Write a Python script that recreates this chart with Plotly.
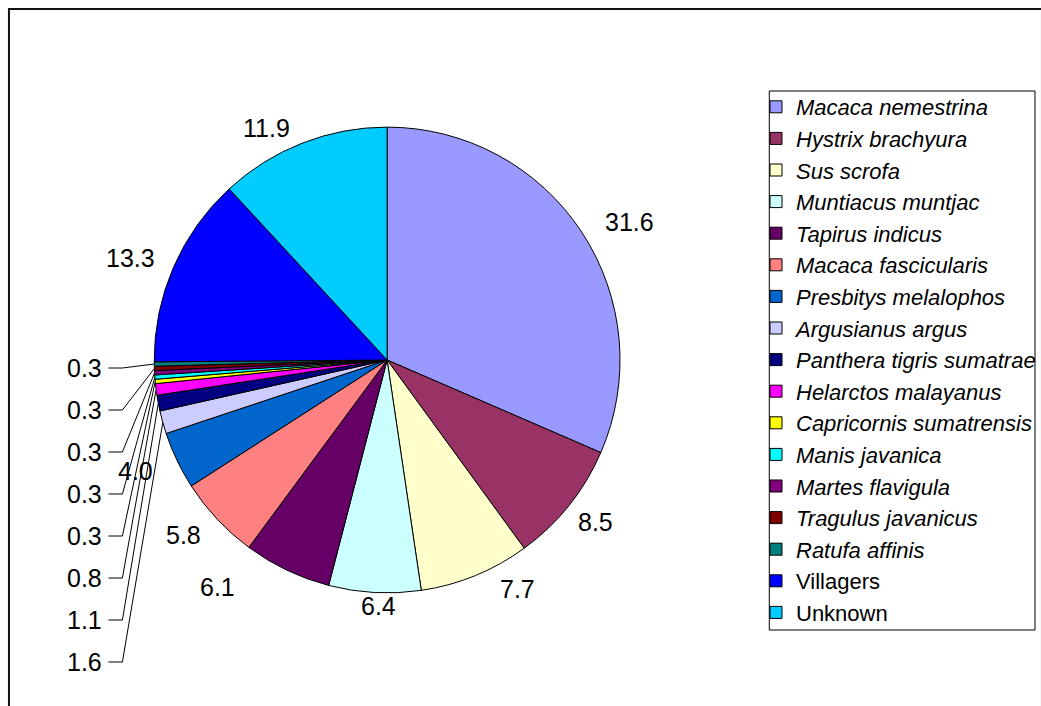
import math
import plotly.graph_objects as go

# Share of records by species / source (percent)
species = [
    "Macaca nemestrina", "Hystrix brachyura", "Sus scrofa", "Muntiacus muntjac",
    "Tapirus indicus", "Macaca fascicularis", "Presbitys melalophos", "Argusianus argus",
    "Panthera tigris sumatrae", "Helarctos malayanus", "Capricornis sumatrensis",
    "Manis javanica", "Martes flavigula", "Tragulus javanicus", "Ratufa affinis",
    "Villagers", "Unknown",
]
percent = [31.6, 8.5, 7.7, 6.4, 6.1, 5.8, 4.0, 1.6, 1.1, 0.8,
           0.3, 0.3, 0.3, 0.3, 0.3, 13.3, 11.9]
is_taxon = [True] * 15 + [False] * 2

colors = [
    "#9999FF", "#993366", "#FFFFCC", "#CCFFFF", "#660066", "#FF8080", "#0066CC",
    "#CCCCFF", "#000080", "#FF00FF", "#FFFF00", "#00FFFF", "#800080", "#800000",
    "#008080", "#0000FF", "#00CCFF",
]

# Page geometry (pixels)
W, H = 1041, 706
CX, CY, R = 389, 360, 234
FONT = "Arial, Liberation Sans, sans-serif"


def px(x):
    return x / W


def py(y):
    return 1 - y / H


legend_names = [f"<i>{s}</i>" if t else s for s, t in zip(species, is_taxon)]

fig = go.Figure()
fig.add_trace(go.Pie(
    labels=legend_names,
    values=percent,
    sort=False,
    direction="clockwise",
    rotation=0,
    textinfo="none",
    marker=dict(colors=colors, line=dict(color="black", width=1)),
    domain=dict(x=[px(CX - R), px(CX + R)], y=[py(CY + R), py(CY - R)]),
    hovertemplate="%{label}: %{value:.1f}<extra></extra>",
))

# Mid-angle of every slice (clockwise from 12 o'clock)
total = sum(percent)
mid_angles = []
acc = 0.0
for v in percent:
    mid_angles.append(2 * math.pi * (acc + v / 2) / total)
    acc += v

annotations = []
shapes = []

# Large slices: value label just outside the rim, with a few nudges against crowding
nudge = {0: (9, 3), 1: (-10, 2), 2: (25, -8), 3: (6, -10), 4: (-50, -4), 16: (-19, 7)}
for i, v in enumerate(percent):
    if v < 2:
        continue
    a = mid_angles[i]
    dx, dy = nudge.get(i, (0, 0))
    lx = CX + 1.15 * 244 * math.sin(a) + dx
    ly = CY - 1.15 * 223 * math.cos(a) + dy
    annotations.append(dict(
        x=px(lx), y=py(ly), xref="paper", yref="paper", text=f"{v:.1f}",
        showarrow=False, xanchor="center", yanchor="middle",
        font=dict(family=FONT, size=25, color="black"),
    ))

# Small slices: labels stacked on the left with leader lines to the rim
small = [i for i, v in enumerate(percent) if v < 2][::-1]
for k, i in enumerate(small):
    ty = 368 + 42 * k
    tx = 105
    annotations.append(dict(
        x=px(tx), y=py(ty), xref="paper", yref="paper", text=f"{percent[i]:.1f}",
        showarrow=False, xanchor="right", yanchor="middle",
        font=dict(family=FONT, size=25, color="black"),
    ))
    a = mid_angles[i]
    ex = CX + R * math.sin(a)
    ey = CY - R * math.cos(a)
    x0 = tx + 4
    x1 = x0 + 14
    shapes.append(dict(
        type="path", xref="paper", yref="paper",
        path=f"M {px(x0)},{py(ty)} L {px(x1)},{py(ty)} L {px(ex)},{py(ey)}",
        line=dict(color="black", width=1),
    ))

# Chart frame and legend box
shapes.append(dict(type="rect", xref="paper", yref="paper",
                   x0=px(9), y0=py(9), x1=px(W + 6), y1=py(H + 6),
                   line=dict(color="#111111", width=2)))
shapes.append(dict(type="rect", xref="paper", yref="paper",
                   x0=px(773), y0=py(91), x1=px(1040), y1=py(630),
                   line=dict(color="black", width=1)))

fig.update_layout(
    width=W, height=H,
    margin=dict(l=0, r=0, t=0, b=0),
    paper_bgcolor="white", plot_bgcolor="white",
    showlegend=True,
    legend=dict(
        x=px(760), y=py(86), xanchor="left", yanchor="top",
        font=dict(family=FONT, size=22, color="black"),
        bgcolor="rgba(0,0,0,0)", borderwidth=0, traceorder="normal",
    ),
    annotations=annotations,
    shapes=shapes,
)

fig.write_html("out.html")
